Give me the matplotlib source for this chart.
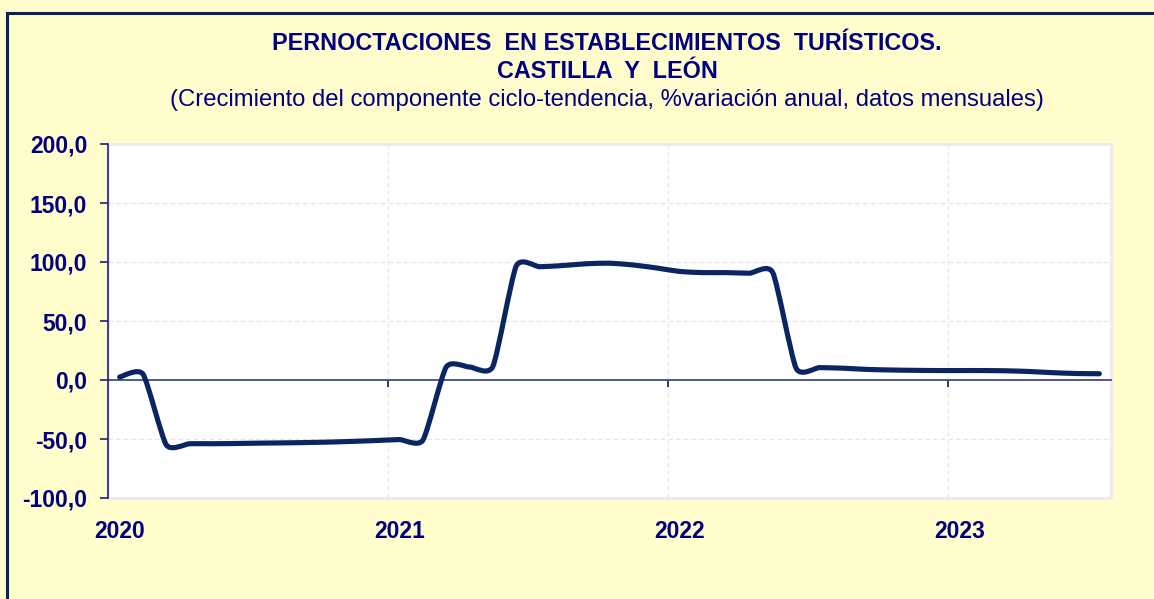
import matplotlib
matplotlib.use('Agg')
import matplotlib.pyplot as plt
import numpy as np
from matplotlib.path import Path
from matplotlib.patches import PathPatch, Rectangle
from matplotlib.ticker import FuncFormatter

plt.rcParams['font.family'] = ['Liberation Sans', 'DejaVu Sans']

# datos mensuales ene-2020 .. jul-2023 (% variación anual, ciclo-tendencia)
years = ['2020', '2021', '2022', '2023']
values = [2.5, 5.0, -55.0, -54.0, -54.0, -53.8, -53.5, -53.3, -53.0, -52.6,
          -52.0, -51.3, -50.5, -51.0, 11.0, 11.0, 11.5, 96.5, 96.0, 97.0,
          98.5, 99.0, 97.5, 95.0, 92.0, 91.0, 91.0, 90.5, 91.0, 10.0,
          10.5, 10.0, 9.0, 8.5, 8.2, 8.0, 8.0, 8.0, 7.8, 7.2,
          6.2, 5.5, 5.3]

navy = '#000080'
line_col = '#0B2462'
bg = '#FFFDCC'


def smooth_path(x, y, t=0.1):
    # curva suavizada tipo Excel (bezier por tramos que pasa por los puntos)
    n = len(x)
    verts = [(x[0], y[0])]
    codes = [Path.MOVETO]
    for i in range(n - 1):
        xp, yp = (x[i - 1], y[i - 1]) if i > 0 else (x[i], y[i])
        xn, yn = (x[i + 2], y[i + 2]) if i + 2 < n else (x[i + 1], y[i + 1])
        c1 = (x[i] + (x[i + 1] - xp) * t, y[i] + (y[i + 1] - yp) * t)
        c2 = (x[i + 1] - (xn - x[i]) * t, y[i + 1] - (yn - y[i]) * t)
        verts += [c1, c2, (x[i + 1], y[i + 1])]
        codes += [Path.CURVE4] * 3
    return Path(verts, codes)


fig = plt.figure(figsize=(11.54, 5.99), dpi=100)
fig.patch.set_facecolor(bg)

# marco exterior
fig.patches.append(Rectangle((7 / 1154, -0.1), 1.2, 1 - 13 / 599 + 0.1,
                             transform=fig.transFigure, fill=False,
                             edgecolor='#0A2060', linewidth=2.2))

ax = fig.add_axes([108 / 1154, 101 / 599, 1003 / 1154, 354 / 599])
ax.set_facecolor('white')

x = np.arange(len(values))
ax.add_patch(PathPatch(smooth_path(x, values), fill=False, edgecolor=line_col,
                       linewidth=3.7, capstyle='round', joinstyle='round', zorder=5))

ax.set_xlim(-0.5, len(values) - 0.5)
ax.set_ylim(-100, 200)
ax.set_yticks(np.arange(-100, 201, 50))
ax.yaxis.set_major_formatter(FuncFormatter(lambda v, p: ('%.1f' % v).replace('.', ',')))

# eje de categorías sobre el cero, con marcas entre años
ax.spines['bottom'].set_position(('data', 0))
ax.spines['bottom'].set_color('#4A5A8C')
ax.spines['bottom'].set_linewidth(1.4)
ax.set_xticks([11.5, 23.5, 35.5])
ax.set_xticklabels([])
ax.tick_params(axis='x', direction='out', length=5, width=1.3, color='#1A237E')
ax.tick_params(axis='y', direction='out', length=6, width=1.2, color='#1A237E',
               pad=9, labelsize=16.5, labelcolor=navy)
for lab in ax.get_yticklabels():
    lab.set_fontweight('bold')

# etiquetas de año al pie del gráfico
lab_ax = ax.secondary_xaxis('bottom')
lab_ax.spines['bottom'].set_visible(False)
lab_ax.set_xticks([0, 12, 24, 36])
lab_ax.set_xticklabels(years, fontweight='bold')
lab_ax.tick_params(length=0, pad=16, labelsize=16.5, labelcolor=navy)

# borde gris del área de trazado
ax.add_patch(Rectangle((0, 0), 1, 1, transform=ax.transAxes, fill=False,
                       edgecolor='#ECECEC', linewidth=2.2, zorder=0.5, clip_on=False))

# rejilla
for yv in [-50, 50, 100, 150]:
    ax.axhline(yv, color='#E4E4E4', linewidth=0.8, linestyle=(0, (4, 3)), zorder=1)
for xv in [11.5, 23.5, 35.5]:
    ax.axvline(xv, color='#E4E4E4', linewidth=0.8, linestyle=(0, (4, 3)), zorder=1)

for s in ['top', 'right']:
    ax.spines[s].set_visible(False)
ax.spines['left'].set_color('#1A237E')
ax.spines['left'].set_linewidth(1.2)
ax.spines['left'].set_zorder(3)

fig.text(0.526, 1 - 44 / 599, 'PERNOCTACIONES  EN ESTABLECIMIENTOS  TURÍSTICOS.',
         ha='center', va='center', fontsize=16.8, fontweight='bold', color=navy)
fig.text(0.526, 1 - 71 / 599, 'CASTILLA  Y  LEÓN',
         ha='center', va='center', fontsize=16.8, fontweight='bold', color=navy)
fig.text(0.526, 1 - 100 / 599,
         '(Crecimiento del componente ciclo-tendencia, %variación anual, datos mensuales)',
         ha='center', va='center', fontsize=17.2, color=navy)

plt.savefig('out.png', dpi=100, facecolor=bg)
